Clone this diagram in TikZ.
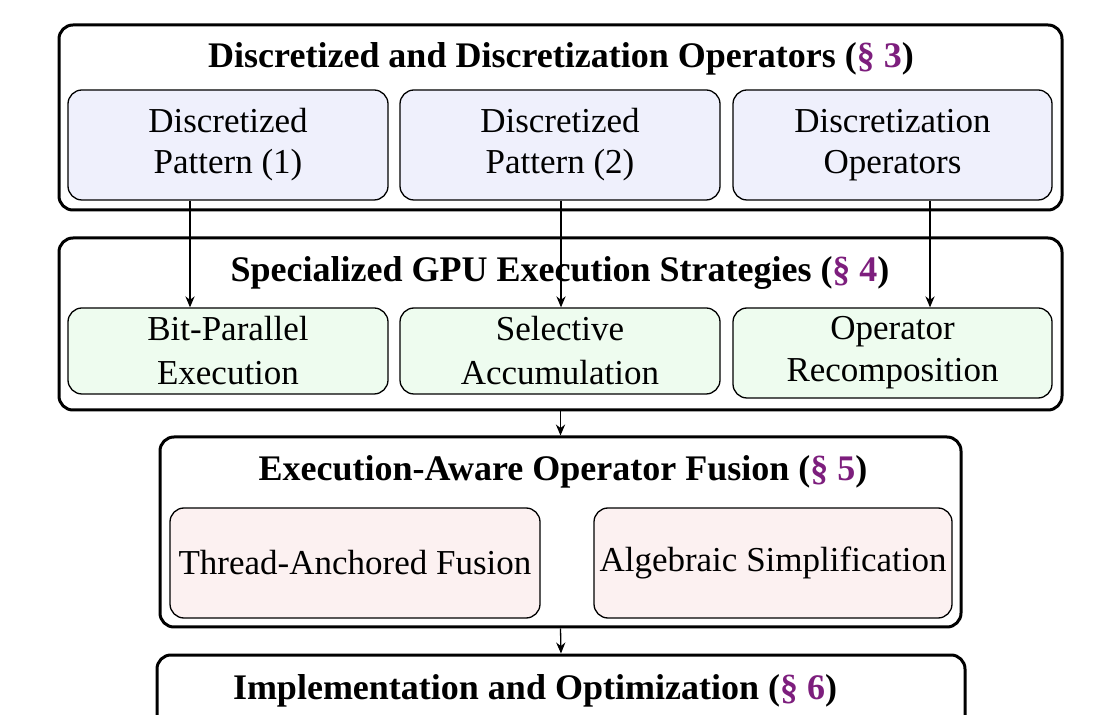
\documentclass[tikz,border=0pt]{standalone}
\usepackage{fontspec}
\setmainfont{Liberation Serif}
\usetikzlibrary{arrows.meta}
\definecolor{secpurple}{RGB}{125,30,125}
\definecolor{fillA}{RGB}{239,240,252}
\definecolor{fillB}{RGB}{238,252,239}
\definecolor{fillC}{RGB}{252,241,241}
\begin{document}
\begin{tikzpicture}[x=0.5pt,y=-0.5pt,
  outerbox/.style={draw,line width=1.5pt,rounded corners=7pt,inner sep=0pt},
  innerbox/.style={draw,line width=0.65pt,rounded corners=7pt,inner sep=0pt,align=center,
    font=\fontsize{17.5}{20.5}\selectfont},
  grouptitle/.style={anchor=base,inner sep=0pt,font=\bfseries\fontsize{18}{21}\selectfont},
  arr/.style={-{Stealth[length=5.5pt,width=4.6pt]},line width=0.65pt}]
\clip (0,0) rectangle (1119,715);
\fill[white] (0,0) rectangle (1119,715);
% group 1
\node[outerbox,minimum width=501.5pt,minimum height=92.5pt] (g1) at (560.5,117.5) {};
\node[grouptitle] (t1) at (561,68) {Discretized and Discretization Operators ({\color{secpurple}§ 3})};
\node[innerbox,fill=fillA,minimum width=160pt,minimum height=55pt] (p1) at (228,145) {Discretized\\Pattern (1)};
\node[innerbox,fill=fillA,minimum width=160pt,minimum height=55pt] (p2) at (560,145) {Discretized\\Pattern (2)};
\node[innerbox,fill=fillA,minimum width=159.5pt,minimum height=55pt] (p3) at (892.5,145) {Discretization\\Operators};
% group 2
\node[outerbox,minimum width=501.5pt,minimum height=86pt] (g2) at (560.5,324) {};
\node[grouptitle] (t2) at (560,282) {Specialized GPU Execution Strategies ({\color{secpurple}§ 4})};
\node[innerbox,fill=fillB,minimum width=160pt,minimum height=43pt,font=\fontsize{17.5}{22}\selectfont] (s1) at (228,351) {Bit-Parallel\\Execution};
\node[innerbox,fill=fillB,minimum width=160pt,minimum height=43pt,font=\fontsize{17.5}{22}\selectfont] (s2) at (560,351) {Selective\\Accumulation};
\node[innerbox,fill=fillB,minimum width=159.5pt,minimum height=45pt,font=\fontsize{17.5}{21}\selectfont] (s3) at (892.5,353) {Operator\\Recomposition};
% group 3
\node[outerbox,minimum width=400.5pt,minimum height=95pt] (g3) at (560.5,532) {};
\node[grouptitle] (t3) at (563,481) {Execution-Aware Operator Fusion ({\color{secpurple}§ 5})};
\node[innerbox,fill=fillC,minimum width=185pt,minimum height=55pt] (f1) at (355,563) {Thread-Anchored Fusion};
\node[innerbox,fill=fillC,minimum width=179pt,minimum height=55pt] (f2) at (773,563) {\raisebox{2.5pt}{Algebraic Simplification}};
% group 4
\node[outerbox,minimum width=404pt,minimum height=62.5pt] (g4) at (561,717.5) {};
\node[grouptitle] (t4) at (535,699) {Implementation and Optimization ({\color{secpurple}§ 6})};
% connectors
\draw[arr] ([xshift=-19pt]p1.south) -- ([xshift=-19pt]s1.north);
\draw[arr] ([xshift=0.5pt]p2.south) -- ([xshift=0.5pt]s2.north);
\draw[arr] ([xshift=18.75pt]p3.south) -- ([xshift=18.75pt]s3.north);
\draw[arr] (g2.south) -- (g3.north);
\draw[arr] (g3.south) -- (g4.north);
\end{tikzpicture}
\end{document}
